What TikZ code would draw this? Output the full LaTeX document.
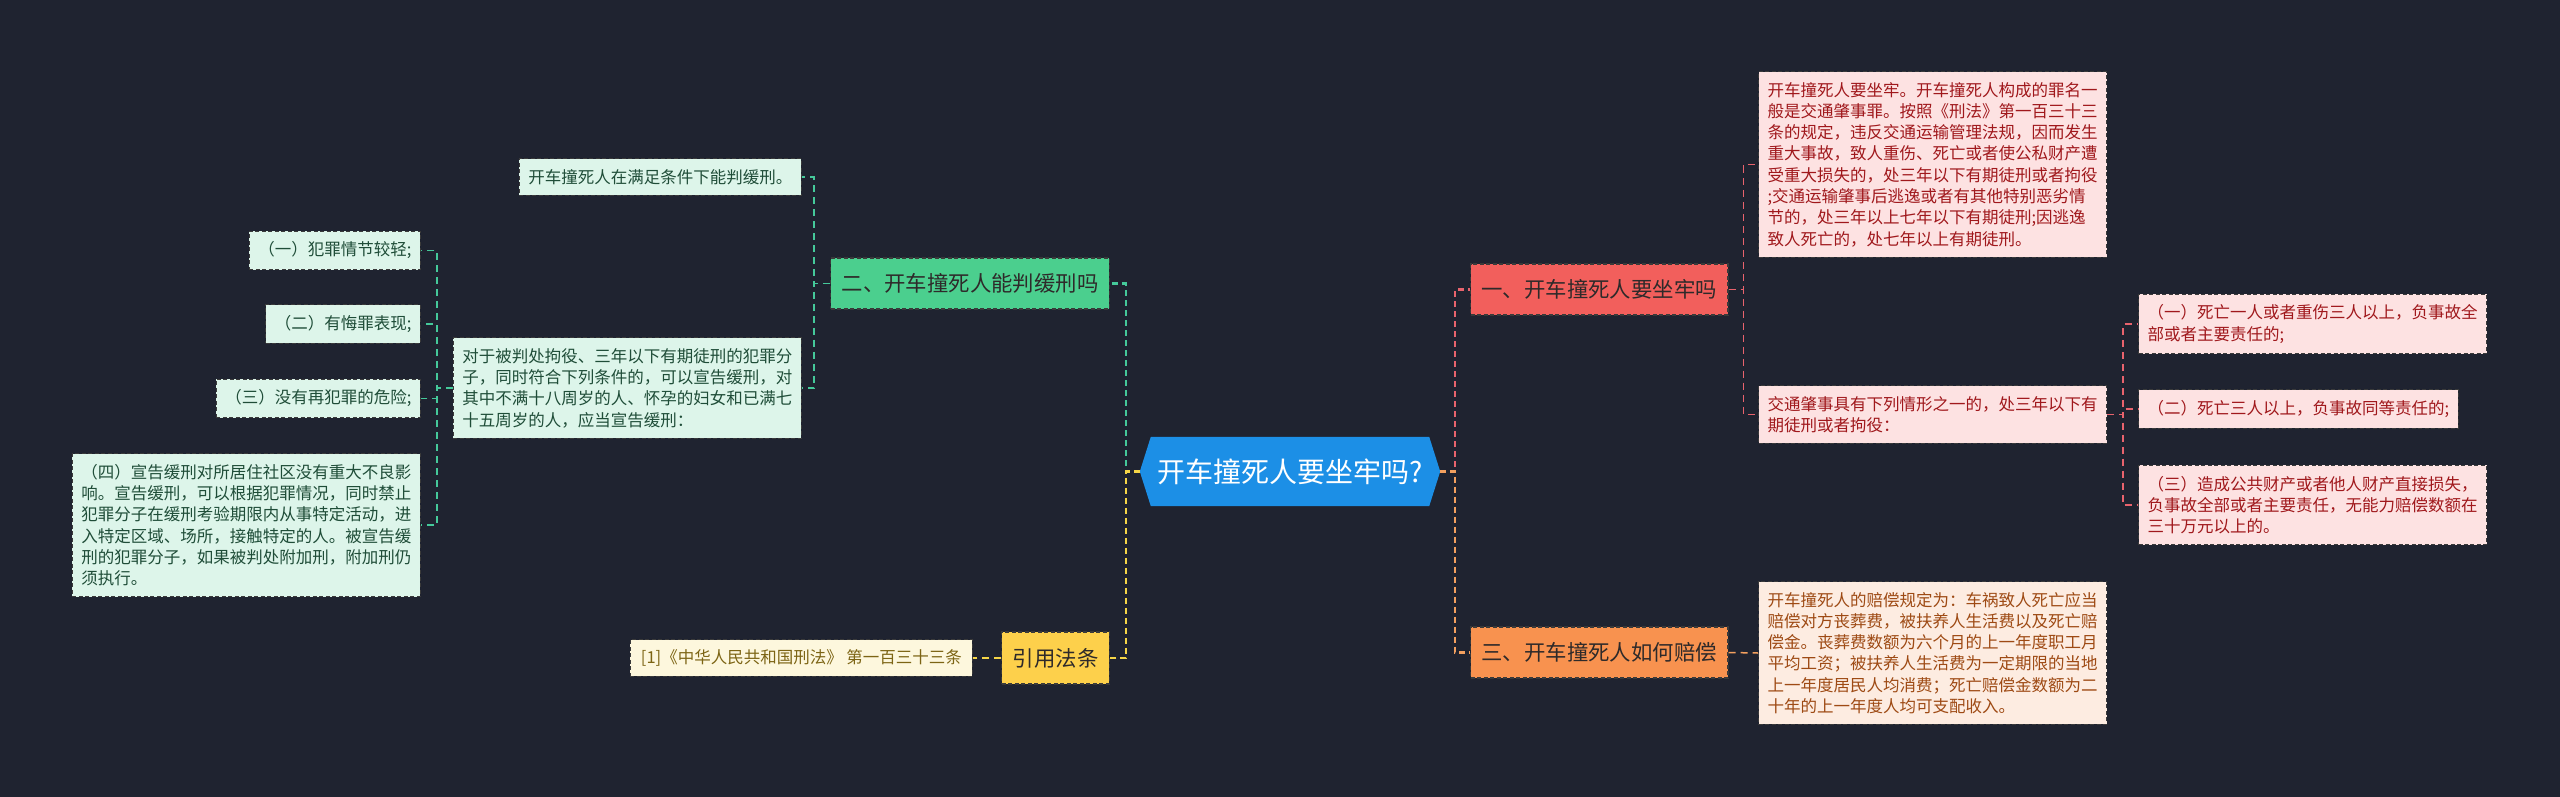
\documentclass[tikz,border=0pt]{standalone}
\usepackage{fontspec}
\setmainfont{Noto Sans CJK SC}
\usetikzlibrary{backgrounds}
\definecolor{bg}{HTML}{1F2330}
\definecolor{cblue}{HTML}{1C8FE6}
\definecolor{bred}{HTML}{F25F5C}
\definecolor{bora}{HTML}{F8924F}
\definecolor{bgrn}{HTML}{4BCF8E}
\definecolor{byel}{HTML}{FDD04B}
\definecolor{lred}{HTML}{FDE2E2}
\definecolor{tred}{HTML}{A0181C}
\definecolor{lora}{HTML}{FDECE1}
\definecolor{tora}{HTML}{9E4A14}
\definecolor{lgrn}{HTML}{DDF5EA}
\definecolor{tgrn}{HTML}{1F4D38}
\definecolor{lyel}{HTML}{FDF7DD}
\definecolor{tyel}{HTML}{7C6414}
\definecolor{kred}{HTML}{E8636D}
\definecolor{kora}{HTML}{F3A05F}
\definecolor{kgrn}{HTML}{45C99A}
\definecolor{kyel}{HTML}{F5D547}
\definecolor{bordc}{HTML}{3A3A3A}
\definecolor{tdark}{HTML}{2E2A2A}
\begin{document}
\begin{tikzpicture}[x=1bp,y=-1bp,
  box/.style={draw=bordc, dash pattern=on 4bp off 2.5bp, line width=1.1bp, rectangle},
  leaf/.style={box, inner xsep=9bp, inner ysep=10.5bp, align=left, font=\fontsize{16.5bp}{21.3bp}\selectfont},
  branch/.style={box, inner xsep=11bp, inner ysep=0bp, minimum height=51bp, font=\fontsize{21.4bp}{26bp}\selectfont, text=tdark},
  link/.style={dash pattern=on 6bp off 4bp, line width=2.2bp},
  sublink/.style={dash pattern=on 7bp off 5bp, line width=1.5bp},
  redleaf/.style={leaf, fill=lred, text=tred},
  oraleaf/.style={leaf, fill=lora, text=tora},
  grnleaf/.style={leaf, fill=lgrn, text=tgrn},
  yelleaf/.style={leaf, fill=lyel, text=tyel}]
\useasboundingbox (0,0) rectangle (2560,797);
\begin{scope}[on background layer]
\fill[bg] (0,0) rectangle (2560,797);
\end{scope}

% central
\node[minimum width=300bp, minimum height=69bp, inner sep=0pt, font=\fontsize{28bp}{32bp}\selectfont, text=white] (c) at (1290,471.5) {开车撞死人要坐牢吗?};
\begin{scope}[on background layer]
\fill[cblue] (c.west) -- ([xshift=11bp]c.north west) -- ([xshift=-11bp]c.north east) -- (c.east) -- ([xshift=-11bp]c.south east) -- ([xshift=11bp]c.south west) -- cycle;
\end{scope}

% branches
\node[branch, fill=bred, anchor=west] (b1) at (1470,289.5) {一、开车撞死人要坐牢吗};
\node[branch, fill=bora, anchor=west] (b3) at (1470,652.5) {三、开车撞死人如何赔偿};
\node[branch, fill=bgrn, anchor=east] (b2) at (1110,283.5) {二、开车撞死人能判缓刑吗};
\node[branch, fill=byel, anchor=east, minimum height=52bp] (y1) at (1110,658) {引用法条};

% right leaves
\node[redleaf, anchor=west] (l1) at (1758,164.5) {开车撞死人要坐牢。开车撞死人构成的罪名一\\般是交通肇事罪。按照《刑法》第一百三十三\\条的规定，违反交通运输管理法规，因而发生\\重大事故，致人重伤、死亡或者使公私财产遭\\受重大损失的，处三年以下有期徒刑或者拘役\\;交通运输肇事后逃逸或者有其他特别恶劣情\\节的，处三年以上七年以下有期徒刑;因逃逸\\致人死亡的，处七年以上有期徒刑。};
\node[redleaf, anchor=west] (l2) at (1758,414.5) {交通肇事具有下列情形之一的，处三年以下有\\期徒刑或者拘役：};
\node[redleaf, anchor=west] (s1) at (2138,324) {（一）死亡一人或者重伤三人以上，负事故全\\部或者主要责任的;};
\node[redleaf, anchor=west] (s2) at (2138,409) {（二）死亡三人以上，负事故同等责任的;};
\node[redleaf, anchor=west] (s3) at (2138,505) {（三）造成公共财产或者他人财产直接损失，\\负事故全部或者主要责任，无能力赔偿数额在\\三十万元以上的。};
\node[oraleaf, anchor=west] (l3) at (1758,653) {开车撞死人的赔偿规定为：车祸致人死亡应当\\赔偿对方丧葬费，被扶养人生活费以及死亡赔\\偿金。丧葬费数额为六个月的上一年度职工月\\平均工资；被扶养人生活费为一定期限的当地\\上一年度居民人均消费；死亡赔偿金数额为二\\十年的上一年度人均可支配收入。};

% left leaves
\node[grnleaf, anchor=east] (g1) at (802,177) {开车撞死人在满足条件下能判缓刑。};
\node[grnleaf, anchor=east] (g2) at (802,388) {对于被判处拘役、三年以下有期徒刑的犯罪分\\子，同时符合下列条件的，可以宣告缓刑，对\\其中不满十八周岁的人、怀孕的妇女和已满七\\十五周岁的人，应当宣告缓刑：};
\node[grnleaf, anchor=east] (k1) at (421,250.5) {（一）犯罪情节较轻;};
\node[grnleaf, anchor=east] (k2) at (421,324) {（二）有悔罪表现;};
\node[grnleaf, anchor=east] (k3) at (421,398.5) {（三）没有再犯罪的危险;};
\node[grnleaf, anchor=east] (k4) at (421,525) {（四）宣告缓刑对所居住社区没有重大不良影\\响。宣告缓刑，可以根据犯罪情况，同时禁止\\犯罪分子在缓刑考验期限内从事特定活动，进\\入特定区域、场所，接触特定的人。被宣告缓\\刑的犯罪分子，如果被判处附加刑，附加刑仍\\须执行。};
\node[yelleaf, anchor=east, inner xsep=10.5bp, inner ysep=10bp] (r1) at (973,658) {[1]《中华人民共和国刑法》 第一百三十三条};

% main connectors
\draw[link,kgrn] (c.west) -- ++(-14bp,0) |- (b2.east);
\draw[link,kyel] (c.west) -- ++(-14bp,0) |- (y1.east);
\draw[link,kred] (c.east) -- ++(15bp,0) |- (b1.west);
\draw[link,kora] (c.east) -- ++(15bp,0) |- (b3.west);

% sub connectors
\draw[sublink,kred] (b1.east) -- ++(15bp,0) |- (l1.west);
\draw[sublink,kred] (b1.east) -- ++(15bp,0) |- (l2.west);
\draw[sublink,kred] (l2.east) -- ++(16bp,0) |- (s1.west);
\draw[sublink,kred] (l2.east) -- ++(16bp,0) |- (s2.west);
\draw[sublink,kred] (l2.east) -- ++(16bp,0) |- (s3.west);
\draw[sublink,kora] (b3.east) -- (l3.west);
\draw[sublink,kgrn] (b2.west) -- ++(-16bp,0) |- (g1.east);
\draw[sublink,kgrn] (b2.west) -- ++(-16bp,0) |- (g2.east);
\draw[sublink,kgrn] (g2.west) -- ++(-16bp,0) |- (k1.east);
\draw[sublink,kgrn] (g2.west) -- ++(-16bp,0) |- (k2.east);
\draw[sublink,kgrn] (g2.west) -- ++(-16bp,0) |- (k3.east);
\draw[sublink,kgrn] (g2.west) -- ++(-16bp,0) |- (k4.east);
\draw[sublink,kyel] (y1.west) -- (r1.east);
\end{tikzpicture}
\end{document}
